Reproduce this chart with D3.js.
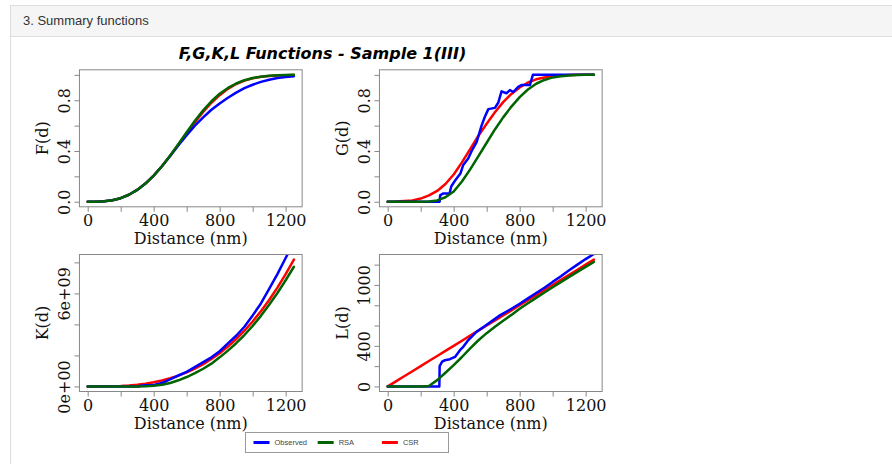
<!DOCTYPE html>
<html>
<head>
<meta charset="utf-8">
<script src="https://cdnjs.cloudflare.com/ajax/libs/d3/7.8.5/d3.min.js"></script>
<style>
  body { margin: 0; background: #fff; font-family: "Liberation Sans", Arial, sans-serif; }
  .panel { position: absolute; left: 10px; top: 5px; width: 900px; height: 480px;
           border: 1px solid #ddd; border-right: none; background: #fff; }
  .panel-heading { height: 30px; background: #f5f5f5; border-bottom: 1px solid #ddd;
                   color: #333; font-size: 13px; line-height: 29px; padding-left: 12px; }
  #chart { position: absolute; left: 0; top: 0; }
</style>
</head>
<body>
<div class="panel"><div class="panel-heading">3. Summary functions</div></div>
<div id="chart"></div>
<script>
// distances (nm) shared by the CSR / RSA envelopes
var dist = [0, 50, 100, 150, 200, 250, 300, 350, 400, 450, 500, 550, 600, 650,
            700, 750, 800, 850, 900, 950, 1000, 1050, 1100, 1150, 1200, 1250];

// F function
var fCSR = [0, 0.0005, 0.004, 0.012, 0.028, 0.055, 0.093, 0.143, 0.206, 0.28, 0.363, 0.45, 0.54,
            0.627, 0.708, 0.78, 0.84, 0.89, 0.928, 0.955, 0.973, 0.985, 0.992, 0.996, 0.998, 0.999];
var fRSA = [0, 0.0005, 0.004, 0.012, 0.028, 0.055, 0.093, 0.143, 0.206, 0.28, 0.365, 0.455, 0.548,
            0.638, 0.72, 0.792, 0.851, 0.897, 0.932, 0.958, 0.975, 0.986, 0.993, 0.997, 0.999, 1];
var fObs = [0, 0.0005, 0.004, 0.012, 0.028, 0.055, 0.093, 0.143, 0.206, 0.28, 0.36, 0.445, 0.525,
            0.6, 0.665, 0.725, 0.775, 0.82, 0.86, 0.895, 0.922, 0.945, 0.962, 0.975, 0.984, 0.99];

// G function
var gCSR = [0, 0.001, 0.005, 0.01, 0.025, 0.05, 0.085, 0.14, 0.215, 0.31, 0.415, 0.52, 0.615,
            0.705, 0.785, 0.85, 0.9, 0.94, 0.965, 0.98, 0.99, 0.996, 0.999, 1, 1, 1];
var gRSA = [0, 0, 0, 0, 0, 0.002, 0.01, 0.035, 0.08, 0.16, 0.255, 0.36, 0.465,
            0.57, 0.665, 0.75, 0.825, 0.885, 0.93, 0.96, 0.98, 0.99, 0.996, 0.999, 1, 1];
var gObsDist = [0, 315, 318, 335, 375, 385, 410, 428, 440, 458, 488, 509, 539, 569,
                589, 610, 650, 670, 690, 720, 741, 761, 791, 811, 862, 880, 1250];
var gObs = [0, 0, 0.05, 0.065, 0.065, 0.12, 0.17, 0.2, 0.22, 0.29, 0.34, 0.4, 0.47, 0.6,
            0.67, 0.73, 0.74, 0.78, 0.87, 0.855, 0.88, 0.865, 0.905, 0.92, 0.92, 1, 1];

// K function (units of 1e9)
var kCSR = [0, 0.0005, 0.0042, 0.0141, 0.0335, 0.0654, 0.1131, 0.1796, 0.2681, 0.3817, 0.5236, 0.6969, 0.9048,
            1.1504, 1.4368, 1.7671, 2.1447, 2.5724, 3.0536, 3.5914, 4.1888, 4.849, 5.575, 6.371, 7.238, 8.181];
var kRSA = [0, 0, 0, 0, 0, 0, 0.001, 0.0103, 0.0388, 0.102, 0.221, 0.395, 0.606,
            0.852, 1.14, 1.468, 1.875, 2.31, 2.787, 3.315, 3.906, 4.551, 5.262, 6.028, 6.847, 7.719];
var obsDist = [0, 313, 315, 330, 347, 377, 408, 438, 458, 489, 539, 600, 680, 750,
               800, 850, 900, 950, 1000, 1050, 1100, 1150, 1200, 1250];
var kObs = [0, 0, 0.034, 0.062, 0.072, 0.081, 0.103, 0.191, 0.249, 0.4, 0.656, 0.942, 1.437, 1.875,
            2.27, 2.78, 3.27, 3.85, 4.58, 5.35, 6.29, 7.24, 8.28, 9.31];

// L function
var lCSR = [0, 50, 100, 150, 200, 250, 300, 350, 400, 450, 500, 550, 600, 650,
            700, 750, 800, 850, 900, 950, 1000, 1050, 1100, 1150, 1200, 1250];
var lRSA = [0, 0, 0, 0, 0, 5, 62, 135, 210, 290, 375, 455, 525,
            588, 648, 705, 765, 820, 873, 925, 977, 1028, 1079, 1129, 1178, 1226];
var lObs = [0, 0, 200, 245, 258, 268, 291, 357, 390, 457, 539, 608, 700, 765,
            815, 868, 920, 972, 1030, 1085, 1145, 1200, 1255, 1305];

// axis ticks
var xTicks = [0, 200, 400, 600, 800, 1000, 1200];
var xTickLabels = [0, 400, 800, 1200];
var fgTicks = [0, 0.2, 0.4, 0.6, 0.8, 1.0];
var fgTickLabels = ["0.0", "0.4", "0.8"];
var kTicks = [0, 2, 4, 6, 8];
var kTickLabels = {0: "0e+00", 6: "6e+09"};
var lTicks = [0, 200, 400, 600, 800, 1000, 1200];
var lTickLabels = [0, 400, 1000];

var seriesNames = ["Observed", "RSA", "CSR"];
var seriesColors = {Observed: "#0000ff", RSA: "#006400", CSR: "#ff0000"};

var titleText = "F,G,K,L Functions - Sample 1(III)";

var pw = 222.7, ph = 137;

var panels = [
  {label: "F(d)", left: 79.45, top: 69.8, ymax: 1, ticks: fgTicks,
   fmt: function(d) { var s = d.toFixed(1); return fgTickLabels.indexOf(s) >= 0 ? s : ""; },
   series: {CSR: [dist, fCSR], Observed: [dist, fObs], RSA: [dist, fRSA]}},
  {label: "G(d)", left: 379.45, top: 69.8, ymax: 1, ticks: fgTicks,
   fmt: function(d) { var s = d.toFixed(1); return fgTickLabels.indexOf(s) >= 0 ? s : ""; },
   series: {CSR: [dist, gCSR], Observed: [gObsDist, gObs], RSA: [dist, gRSA]}},
  {label: "K(d)", left: 79.45, top: 254.5, ymax: 8.181, ticks: kTicks,
   fmt: function(d) { return kTickLabels[d] || ""; },
   series: {CSR: [dist, kCSR], Observed: [obsDist, kObs], RSA: [dist, kRSA]}},
  {label: "L(d)", left: 379.45, top: 254.5, ymax: 1250, ticks: lTicks,
   fmt: function(d) { return lTickLabels.indexOf(d) >= 0 ? d : ""; },
   series: {CSR: [dist, lCSR], Observed: [obsDist, lObs], RSA: [dist, lRSA]}}
];

var svg = d3.select("#chart").append("svg")
    .attr("width", 892)
    .attr("height", 464);

// title
svg.append("text")
    .attr("x", 322.5)
    .attr("y", 59)
    .attr("text-anchor", "middle")
    .style("font-family", "'DejaVu Sans', sans-serif")
    .style("font-weight", "bold")
    .style("font-style", "italic")
    .style("font-size", "16px")
    .text(titleText);

var drawOrder = ["CSR", "Observed", "RSA"];

panels.forEach(function(p, i) {
  var x = d3.scaleLinear().domain([-50, 1300]).range([0, pw]);
  var pad = 0.04 * p.ymax;
  var y = d3.scaleLinear().domain([-pad, p.ymax + pad]).range([ph, 0]);

  var g = svg.append("g")
      .attr("transform", "translate(" + p.left + "," + p.top + ")");

  g.append("clipPath").attr("id", "clip" + i)
    .append("rect").attr("width", pw).attr("height", ph);

  var line = d3.line()
      .x(function(d) { return x(d[0]); })
      .y(function(d) { return y(d[1]); });

  drawOrder.forEach(function(name) {
    var s = p.series[name];
    var pts = s[0].map(function(d, j) { return [d, s[1][j]]; });
    g.append("path")
        .datum(pts)
        .attr("clip-path", "url(#clip" + i + ")")
        .attr("fill", "none")
        .attr("stroke", seriesColors[name])
        .attr("stroke-width", 2.5)
        .attr("stroke-linejoin", "round")
        .attr("stroke-linecap", "round")
        .attr("d", line);
  });

  // box
  g.append("rect")
      .attr("width", pw).attr("height", ph)
      .attr("fill", "none")
      .attr("stroke", "#888")
      .attr("stroke-width", 1);

  // x axis
  var xa = g.append("g")
      .attr("transform", "translate(0," + ph + ")")
      .call(d3.axisBottom(x).tickValues(xTicks).tickSize(5)
            .tickFormat(function(d) { return xTickLabels.indexOf(d) >= 0 ? d : ""; }));
  xa.select(".domain").remove();
  xa.selectAll("line").attr("stroke", "#888");
  xa.selectAll("text")
      .attr("fill", "#111")
      .style("font-family", "'DejaVu Serif', serif")
      .style("font-size", "16px");

  // y axis, labels rotated like base R
  var ya = g.append("g")
      .call(d3.axisLeft(y).tickValues(p.ticks).tickSize(5).tickFormat(p.fmt));
  ya.select(".domain").remove();
  ya.selectAll("line").attr("stroke", "#888");
  ya.selectAll("text")
      .attr("x", 0).attr("y", -9).attr("dy", 0)
      .attr("transform", "rotate(-90)")
      .attr("text-anchor", "middle")
      .attr("fill", "#111")
      .style("font-family", "'DejaVu Serif', serif")
      .style("font-size", "16px");

  // axis titles
  g.append("text")
      .attr("x", pw / 2)
      .attr("y", ph + 37.5)
      .attr("text-anchor", "middle")
      .attr("fill", "#111")
      .style("font-family", "'DejaVu Serif', serif")
      .style("font-size", "16px")
      .text("Distance (nm)");

  g.append("text")
      .attr("transform", "translate(-31," + (ph / 2) + ") rotate(-90)")
      .attr("text-anchor", "middle")
      .attr("fill", "#111")
      .style("font-family", "'DejaVu Serif', serif")
      .style("font-size", "16px")
      .text(p.label);
});

// legend
var lg = svg.append("g").attr("transform", "translate(245.5,432.5)");
lg.append("rect")
    .attr("width", 203).attr("height", 20)
    .attr("fill", "#fff")
    .attr("stroke", "#999");
seriesNames.forEach(function(name, i) {
  var ox = 8 + i * 64.2;
  lg.append("line")
      .attr("x1", ox).attr("x2", ox + 16)
      .attr("y1", 10).attr("y2", 10)
      .attr("stroke", seriesColors[name])
      .attr("stroke-width", 3);
  lg.append("text")
      .attr("x", ox + 21)
      .attr("y", 12.5)
      .attr("fill", "#444")
      .style("font-family", "'Liberation Sans', Arial, sans-serif")
      .style("font-size", "7.5px")
      .text(name);
});
</script>
</body>
</html>
